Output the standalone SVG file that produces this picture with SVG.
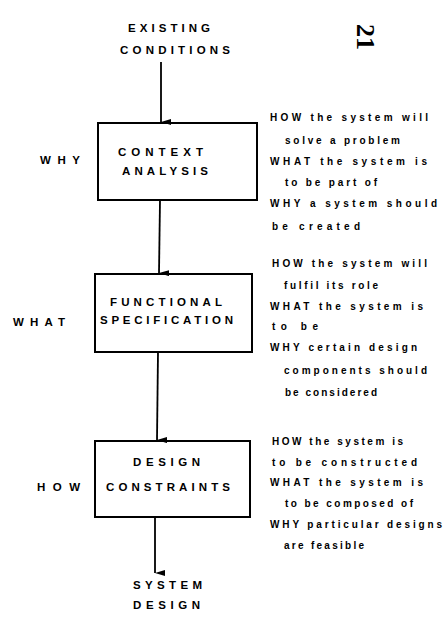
<svg xmlns="http://www.w3.org/2000/svg" width="445" height="617" viewBox="0 0 445 617">
  <defs>
    <marker id="arrow" viewBox="0 0 6 10" refX="3" refY="10" markerWidth="6" markerHeight="10" markerUnits="userSpaceOnUse" orient="auto-start-reverse">
      <path d="M0,0 L6,0 L3,10 Z" fill="#000"/>
    </marker>
    <style>
      .box { fill: none; stroke: #000; stroke-width: 2; }
      .wire { fill: none; stroke: #000; stroke-width: 1.8; }
      .head { font-family: "Liberation Sans", Arial, sans-serif; font-weight: bold; font-size: 11.5px; fill: #000; text-anchor: start; }
      .side { font-family: "Liberation Sans", Arial, sans-serif; font-weight: bold; font-size: 11.5px; fill: #000; }
      .note { font-family: "Liberation Sans", Arial, sans-serif; font-weight: bold; font-size: 10px; fill: #000; }
      .page { font-family: "Liberation Serif", "Times New Roman", serif; font-weight: bold; font-size: 26px; fill: #000; text-anchor: middle; }
    </style>
  </defs>

  <rect width="445" height="617" fill="#fff"/>

  <!-- page number, printed sideways -->
  <text class="page" transform="translate(357,37) rotate(90)" x="0" y="0">21</text>

  <!-- connectors -->
  <g id="connectors">
    <line class="wire" x1="161" y1="62" x2="161" y2="122" marker-end="url(#arrow)"/>
    <line class="wire" x1="160" y1="200" x2="159" y2="273" marker-end="url(#arrow)"/>
    <line class="wire" x1="158" y1="352" x2="157" y2="440" marker-end="url(#arrow)"/>
    <line class="wire" x1="155" y1="517" x2="155" y2="573" marker-end="url(#arrow)"/>
  </g>

  <!-- start -->
  <g id="existing-conditions">
    <text class="head" x="128" y="32" textLength="82" lengthAdjust="spacing">EXISTING</text>
    <text class="head" x="120" y="54" textLength="110" lengthAdjust="spacing">CONDITIONS</text>
  </g>

  <!-- stage 1 -->
  <g id="context-analysis">
    <rect class="box" x="98" y="123" width="159" height="77"/>
    <text class="head" x="118" y="156" textLength="85" lengthAdjust="spacing">CONTEXT</text>
    <text class="head" x="122" y="175" textLength="86" lengthAdjust="spacing">ANALYSIS</text>
  </g>
  <g id="why-label">
    <text class="side" x="40" y="164" textLength="40" lengthAdjust="spacing">WHY</text>
  </g>
  <g id="context-notes">
    <text class="note" x="270" y="121" textLength="158" lengthAdjust="spacing">HOW the system will</text>
    <text class="note" x="285" y="144" textLength="115" lengthAdjust="spacing">solve a problem</text>
    <text class="note" x="270" y="165" textLength="157" lengthAdjust="spacing">WHAT the system is</text>
    <text class="note" x="285" y="186" textLength="92" lengthAdjust="spacing">to be part of</text>
    <text class="note" x="270" y="207" textLength="167" lengthAdjust="spacing">WHY a system should</text>
    <text class="note" x="272" y="230" textLength="88" lengthAdjust="spacing">be created</text>
  </g>

  <!-- stage 2 -->
  <g id="functional-specification">
    <rect class="box" x="95" y="274" width="157" height="78"/>
    <text class="head" x="110" y="306" textLength="112" lengthAdjust="spacing">FUNCTIONAL</text>
    <text class="head" x="100" y="324" textLength="133" lengthAdjust="spacing">SPECIFICATION</text>
  </g>
  <g id="what-label">
    <text class="side" x="13" y="326" textLength="52" lengthAdjust="spacing">WHAT</text>
  </g>
  <g id="functional-notes">
    <text class="note" x="272" y="267" textLength="155" lengthAdjust="spacing">HOW the system will</text>
    <text class="note" x="284" y="289" textLength="94" lengthAdjust="spacing">fulfil its role</text>
    <text class="note" x="270" y="310" textLength="153" lengthAdjust="spacing">WHAT the system is</text>
    <text class="note" x="272" y="330" textLength="46" lengthAdjust="spacing">to be</text>
    <text class="note" x="270" y="351" textLength="147" lengthAdjust="spacing">WHY certain design</text>
    <text class="note" x="284" y="374" textLength="143" lengthAdjust="spacing">components should</text>
    <text class="note" x="285" y="396" textLength="92" lengthAdjust="spacing">be considered</text>
  </g>

  <!-- stage 3 -->
  <g id="design-constraints">
    <rect class="box" x="95" y="441" width="155" height="76"/>
    <text class="head" x="133" y="466" textLength="67" lengthAdjust="spacing">DESIGN</text>
    <text class="head" x="106" y="491" textLength="124" lengthAdjust="spacing">CONSTRAINTS</text>
  </g>
  <g id="how-label">
    <text class="side" x="37" y="491" textLength="43" lengthAdjust="spacing">HOW</text>
  </g>
  <g id="constraint-notes">
    <text class="note" x="272" y="445" textLength="131" lengthAdjust="spacing">HOW the system is</text>
    <text class="note" x="272" y="466" textLength="145" lengthAdjust="spacing">to be constructed</text>
    <text class="note" x="270" y="486" textLength="153" lengthAdjust="spacing">WHAT the system is</text>
    <text class="note" x="285" y="507" textLength="128" lengthAdjust="spacing">to be composed of</text>
    <text class="note" x="270" y="528" textLength="172" lengthAdjust="spacing">WHY particular designs</text>
    <text class="note" x="284" y="549" textLength="80" lengthAdjust="spacing">are feasible</text>
  </g>

  <!-- end -->
  <g id="system-design">
    <text class="head" x="133" y="589" textLength="69" lengthAdjust="spacing">SYSTEM</text>
    <text class="head" x="133" y="609" textLength="67" lengthAdjust="spacing">DESIGN</text>
  </g>
</svg>
